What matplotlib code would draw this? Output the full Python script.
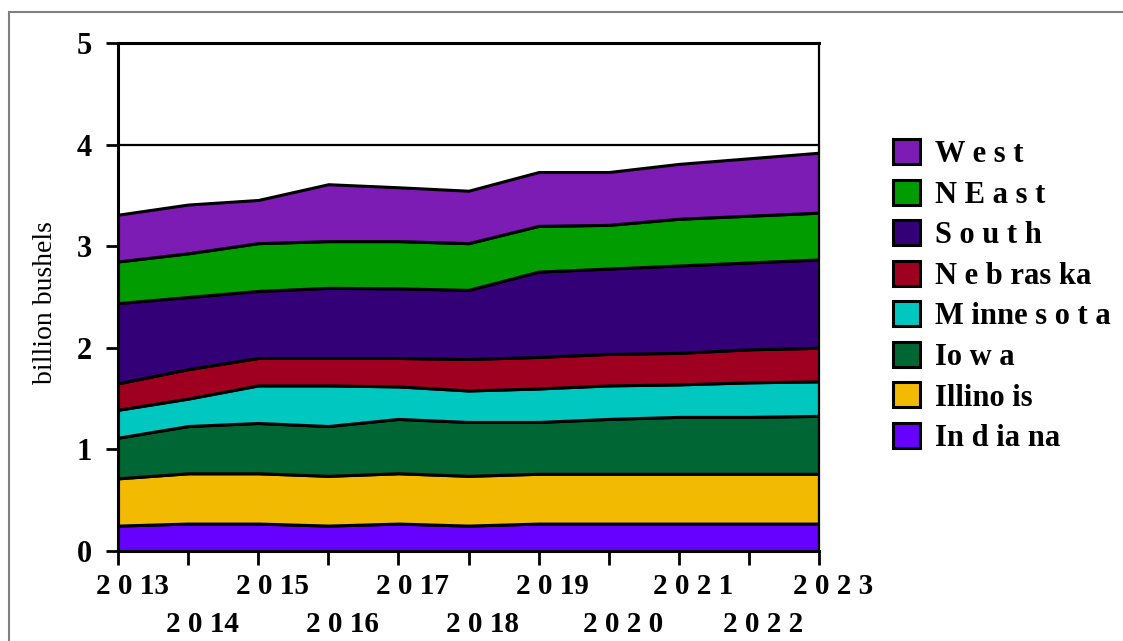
import matplotlib
matplotlib.use("Agg")
import matplotlib.pyplot as plt
import matplotlib.transforms as mtransforms
from matplotlib.patches import Rectangle

years = [2013, 2014, 2015, 2016, 2017, 2018, 2019, 2020, 2021, 2022, 2023]
year_labels = ["2 0 13", "2 0 14", "2 0 15", "2 0 16", "2 0 17", "2 0 18",
               "2 0 19", "2 0 2 0", "2 0 2 1", "2 0 2 2", "2 0 2 3"]

indiana   = [0.25, 0.27, 0.27, 0.25, 0.27, 0.25, 0.27, 0.27, 0.27, 0.27, 0.27]
illinois  = [0.465, 0.495, 0.495, 0.49, 0.495, 0.49, 0.49, 0.49, 0.49, 0.49, 0.49]
iowa      = [0.40, 0.465, 0.495, 0.49, 0.535, 0.53, 0.51, 0.54, 0.56, 0.56, 0.57]
minnesota = [0.275, 0.27, 0.37, 0.40, 0.32, 0.31, 0.33, 0.33, 0.32, 0.34, 0.34]
nebraska  = [0.26, 0.29, 0.27, 0.27, 0.28, 0.31, 0.31, 0.31, 0.31, 0.325, 0.33]
south     = [0.79, 0.71, 0.66, 0.69, 0.685, 0.68, 0.84, 0.84, 0.86, 0.855, 0.87]
neast     = [0.41, 0.43, 0.47, 0.46, 0.465, 0.46, 0.45, 0.43, 0.46, 0.46, 0.46]
west      = [0.46, 0.48, 0.425, 0.56, 0.53, 0.516, 0.53, 0.52, 0.54, 0.565, 0.59]

series = [indiana, illinois, iowa, minnesota, nebraska, south, neast, west]
names = ["In d ia na", "Illino is", "Io w a", "M inne s o t a", "N e b ras ka",
         "S o u t h", "N E a s t", "W e s t"]
colors = ["#6600FF", "#F2BA00", "#006633", "#00C8C0", "#A00020",
          "#330078", "#009C00", "#7D1BB5"]

plt.rcParams['font.family'] = ['Liberation Serif', 'DejaVu Serif']

fig = plt.figure(figsize=(11.23, 6.41), dpi=100)
ax = fig.add_axes([118/1123, 1-551/641, (819-118)/1123, (551-43)/641])

polys = ax.stackplot(years, *series, colors=colors, labels=names,
                     edgecolor="black", linewidth=2.2, zorder=3)

ax.set_xlim(years[0], years[-1])
ax.set_ylim(0, 5)
ax.set_yticks([0, 1, 2, 3, 4, 5])
ax.set_yticklabels(["0", "1", "2", "3", "4", "5"], fontsize=22, fontweight="bold")
ax.grid(axis="y", color="black", linewidth=1.6, zorder=1)
ax.set_axisbelow(True)

ax.set_xticks(years)
ax.set_xticklabels([])
ax.tick_params(axis="x", length=10, width=2, direction="out")
ax.tick_params(axis="y", length=9, width=2, pad=10, direction="out")

# staggered year labels, shifted slightly right as in the original
xform = ax.get_xaxis_transform()
for i, (yr, lab) in enumerate(zip(years, year_labels)):
    dy = -35/100 if i % 2 == 0 else -73/100
    off = mtransforms.ScaledTranslation(14/100, dy, fig.dpi_scale_trans)
    ax.text(yr, 0, lab, transform=xform + off, ha="center", va="center",
            fontsize=21, fontweight="bold", clip_on=False)

for s in ["left", "bottom", "top"]:
    ax.spines[s].set_linewidth(2.2)
ax.spines["right"].set_linewidth(1.6)
for s in ax.spines.values():
    s.set_zorder(5)

ax.set_ylabel("billion bushels", fontsize=20)
ax.yaxis.set_label_coords((58-118)/701, 0.49)

handles = polys[::-1]
labels = names[::-1]
fig.legend(handles, labels, loc="upper left", bbox_to_anchor=(893/1123, 1-139/641),
           frameon=False, prop={"size": 22, "weight": "bold"},
           handlelength=0.88, handleheight=0.88, handletextpad=0.5,
           labelspacing=0.345, borderpad=0, borderaxespad=0)

fig.add_artist(Rectangle((9/1123, -0.2), 1.2, 1.2 - 12/641,
                         transform=fig.transFigure, fill=False,
                         edgecolor="#808080", linewidth=1.5))

fig.savefig("out.png", dpi=100)
